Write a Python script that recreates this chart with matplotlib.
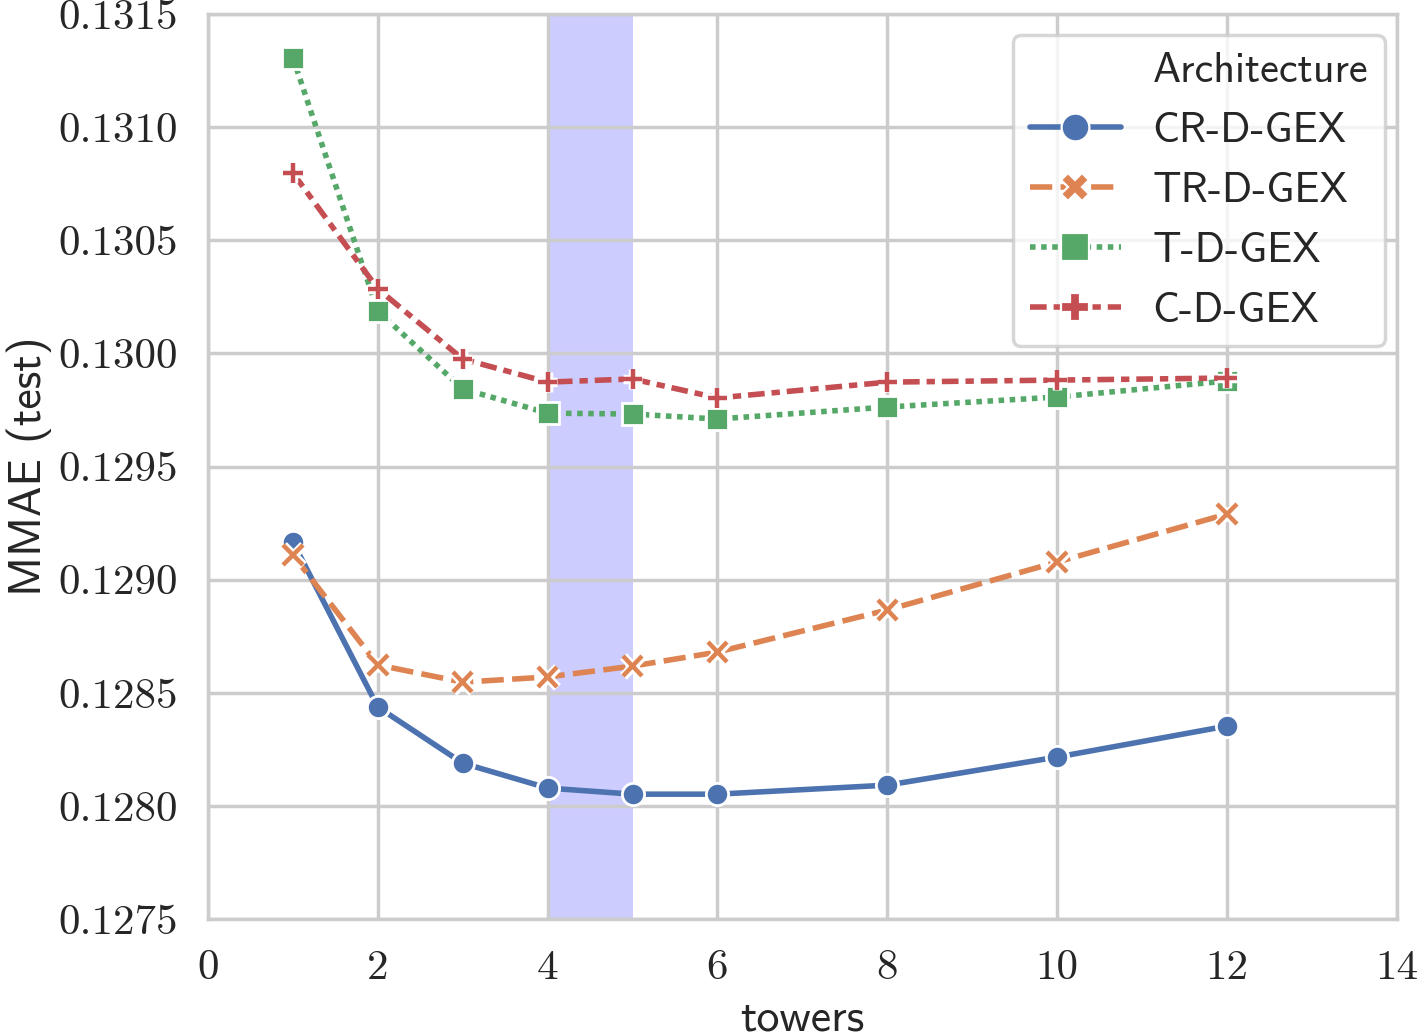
import matplotlib
matplotlib.use("Agg")
import matplotlib.pyplot as plt
import matplotlib.patheffects as pe
from matplotlib.lines import Line2D
import seaborn as sns

towers = [1, 2, 3, 4, 5, 6, 8, 10, 12]
cr_d_gex = [0.129166, 0.128437, 0.128189, 0.128079, 0.128052, 0.128052, 0.128092, 0.128216, 0.128353]
tr_d_gex = [0.129109, 0.128623, 0.128547, 0.128570, 0.128618, 0.128680, 0.128866, 0.129078, 0.129290]
t_d_gex = [0.131306, 0.130187, 0.129843, 0.129736, 0.129732, 0.129710, 0.129763, 0.129807, 0.129878]
c_d_gex = [0.130797, 0.130285, 0.129975, 0.129873, 0.129887, 0.129803, 0.129873, 0.129882, 0.129891]
labels = ["CR-D-GEX", "TR-D-GEX", "T-D-GEX", "C-D-GEX"]
yticks = [0.1275, 0.1280, 0.1285, 0.1290, 0.1295, 0.1300, 0.1305, 0.1310, 0.1315]
xticks = [0, 2, 4, 6, 8, 10, 12, 14]

sns.set_theme(style="whitegrid")
plt.rcParams["font.family"] = ["cmss10", "DejaVu Sans"]
plt.rcParams["axes.unicode_minus"] = False

colors = sns.color_palette("deep", 4)
dashes = [(None, None), (4, 1.5), (1, 1), (3, 1.25, 1.5, 1.25)]
plot_markers = ["o", "x", "s", "+"]
legend_markers = ["o", "X", "s", "P"]
series = [cr_d_gex, tr_d_gex, t_d_gex, c_d_gex]

fig = plt.figure(figsize=(7.09, 5.175), dpi=200)
ax = fig.add_axes([0.1467, 0.112, 0.8383, 0.8745])

# highlighted range
ax.axvspan(4, 5, color="blue", alpha=0.2, lw=0, zorder=0.5)

for i, (vals, lab) in enumerate(zip(series, labels)):
    kw = dict(color=colors[i], lw=2.0)
    if dashes[i][0] is not None:
        kw["dashes"] = dashes[i]
    ax.plot(towers, vals, label=lab, **kw)
    m = plot_markers[i]
    if m in "os":
        ax.plot(towers, vals, ls="none", marker=m, ms=8, color=colors[i],
                mec="white", mew=1.0)
    else:
        ax.plot(towers, vals, ls="none", marker=m, ms=7, color=colors[i],
                mew=1.6, path_effects=[pe.Stroke(linewidth=3.4, foreground="white"),
                                       pe.Normal()])

ax.set_xlim(0, 14)
ax.set_ylim(0.1275, 0.1315)
ax.set_xticks(xticks)
ax.set_yticks(yticks)
ax.set_xticklabels([str(t) for t in xticks], fontfamily="cmr10", fontsize=15.5)
ax.set_yticklabels(["%.4f" % t for t in yticks], fontfamily="cmr10", fontsize=15.5)
ax.tick_params(axis="both", pad=5)
ax.set_xlabel("towers", fontsize=16.5, labelpad=4)
ax.set_ylabel("MMAE (test)", fontsize=16.5, labelpad=2)
for s in ax.spines.values():
    s.set_color("#cccccc")
    s.set_linewidth(1.25)
ax.grid(True, color="#cccccc", lw=1.25)

handles = [Line2D([], [], color="none", label="Architecture")]
for i, lab in enumerate(labels):
    kw = dict(color=colors[i], lw=2.0, marker=legend_markers[i], ms=10, mec="white", mew=0.8)
    if dashes[i][0] is not None:
        kw["dashes"] = dashes[i]
    handles.append(Line2D([], [], label=lab, **kw))
leg = ax.legend(handles=handles, loc="upper right", bbox_to_anchor=(0.99, 0.977),
                borderaxespad=0, fontsize=15.2, frameon=True, handlelength=2.15,
                handletextpad=0.75, borderpad=0.4, labelspacing=0.52)
leg.get_frame().set_edgecolor("#cccccc")
leg.get_frame().set_linewidth(1.25)

fig.savefig("out.png", dpi=200)
